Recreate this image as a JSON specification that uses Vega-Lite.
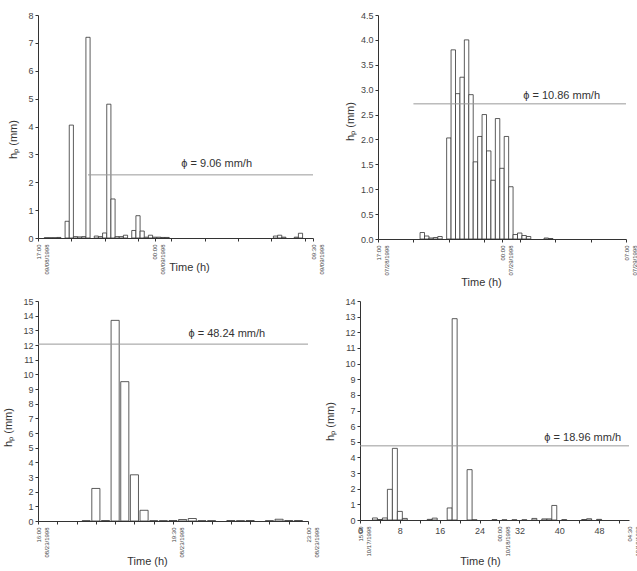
{
  "$schema": "https://vega.github.io/schema/vega-lite/v6.json",
  "padding": {"left": 2, "top": 11, "right": 2, "bottom": 2},
  "background": "white",
  "config": {
    "view": {"stroke": null},
    "font": "Liberation Sans",
    "axis": {
      "grid": false,
      "domainColor": "#333",
      "tickColor": "#333",
      "labelColor": "#444",
      "titleColor": "#333",
      "labelFontSize": 9,
      "titleFontSize": 11,
      "titleFontWeight": "normal",
      "tickSize": 3,
      "labelPadding": 2,
      "labelOverlap": false,
      "labelFlush": false,
      "labelBound": false
    },
    "text": {"font": "Liberation Sans"}
  },
  "datasets": {
    "p1": [
      {"hr": 0.5, "h": 0.01}, {"hr": 0.75, "h": 0.01}, {"hr": 1.0, "h": 0.01}, {"hr": 1.25, "h": 0.02},
      {"hr": 1.75, "h": 0.6}, {"hr": 2.0, "h": 4.05}, {"hr": 2.25, "h": 0.05}, {"hr": 2.5, "h": 0.04},
      {"hr": 2.75, "h": 0.05}, {"hr": 3.0, "h": 7.2}, {"hr": 3.5, "h": 0.07}, {"hr": 3.75, "h": 0.05},
      {"hr": 4.0, "h": 0.18}, {"hr": 4.25, "h": 4.8}, {"hr": 4.5, "h": 1.4}, {"hr": 4.75, "h": 0.05},
      {"hr": 5.0, "h": 0.05}, {"hr": 5.25, "h": 0.1}, {"hr": 5.75, "h": 0.27}, {"hr": 6.0, "h": 0.8},
      {"hr": 6.25, "h": 0.25}, {"hr": 6.5, "h": 0.03}, {"hr": 6.75, "h": 0.1}, {"hr": 7.0, "h": 0.03},
      {"hr": 7.25, "h": 0.03}, {"hr": 7.5, "h": 0.02}, {"hr": 7.75, "h": 0.02},
      {"hr": 14.25, "h": 0.07}, {"hr": 14.5, "h": 0.1}, {"hr": 14.75, "h": 0.03},
      {"hr": 15.5, "h": 0.03}, {"hr": 15.75, "h": 0.17}
    ],
    "p2": [
      {"hr": 2.5, "h": 0.13}, {"hr": 2.75, "h": 0.06}, {"hr": 3.0, "h": 0.02}, {"hr": 3.25, "h": 0.03},
      {"hr": 3.5, "h": 0.05}, {"hr": 4.0, "h": 2.03}, {"hr": 4.25, "h": 3.8}, {"hr": 4.5, "h": 2.92},
      {"hr": 4.75, "h": 3.25}, {"hr": 5.0, "h": 4.0}, {"hr": 5.25, "h": 2.9}, {"hr": 5.5, "h": 1.55},
      {"hr": 5.75, "h": 2.06}, {"hr": 6.0, "h": 2.5}, {"hr": 6.25, "h": 1.77}, {"hr": 6.5, "h": 1.18},
      {"hr": 6.75, "h": 2.42}, {"hr": 7.0, "h": 1.42}, {"hr": 7.25, "h": 2.06}, {"hr": 7.5, "h": 1.05},
      {"hr": 7.75, "h": 0.09}, {"hr": 8.0, "h": 0.12}, {"hr": 8.25, "h": 0.07}, {"hr": 8.5, "h": 0.05},
      {"hr": 9.5, "h": 0.02}, {"hr": 9.75, "h": 0.01}
    ],
    "p3": [
      {"hr": 1.25, "h": 0.02}, {"hr": 1.5, "h": 2.22}, {"hr": 1.75, "h": 0.03}, {"hr": 2.0, "h": 13.68},
      {"hr": 2.25, "h": 9.5}, {"hr": 2.5, "h": 3.15}, {"hr": 2.75, "h": 0.73}, {"hr": 3.0, "h": 0.02},
      {"hr": 3.25, "h": 0.02}, {"hr": 3.5, "h": 0.03}, {"hr": 3.75, "h": 0.1}, {"hr": 4.0, "h": 0.17},
      {"hr": 4.25, "h": 0.02}, {"hr": 4.5, "h": 0.02}, {"hr": 5.0, "h": 0.03}, {"hr": 5.25, "h": 0.02},
      {"hr": 5.5, "h": 0.03}, {"hr": 6.0, "h": 0.02}, {"hr": 6.25, "h": 0.12}, {"hr": 6.5, "h": 0.03},
      {"hr": 6.75, "h": 0.03}
    ],
    "p4": [
      {"step": 3, "h": 0.13}, {"step": 4, "h": 0.03}, {"step": 5, "h": 0.13}, {"step": 6, "h": 1.96},
      {"step": 7, "h": 4.58}, {"step": 8, "h": 0.55}, {"step": 9, "h": 0.1}, {"step": 14, "h": 0.04},
      {"step": 15, "h": 0.12}, {"step": 18, "h": 0.77}, {"step": 19, "h": 12.87}, {"step": 22, "h": 3.22},
      {"step": 23, "h": 0.01}, {"step": 27, "h": 0.02}, {"step": 29, "h": 0.01}, {"step": 31, "h": 0.01},
      {"step": 33, "h": 0.01}, {"step": 35, "h": 0.1}, {"step": 37, "h": 0.07}, {"step": 38, "h": 0.07},
      {"step": 39, "h": 0.93}, {"step": 41, "h": 0.02}, {"step": 45, "h": 0.03}, {"step": 46, "h": 0.08},
      {"step": 48, "h": 0.04}
    ]
  },
  "spacing": 10,
  "vconcat": [
    {
      "hconcat": [
        {
          "width": 275,
          "height": 223,
          "resolve": {"axis": {"x": "independent", "y": "independent"}},
          "layer": [
            {
              "data": {"name": "p1"},
              "transform": [
                {"calculate": "datum.hr - 0.125", "as": "t0"},
                {"calculate": "datum.hr + 0.125", "as": "t1"}
              ],
              "mark": {"type": "rect", "fill": "white", "stroke": "#333", "strokeWidth": 0.8},
              "encoding": {
                "x": {
                  "field": "t0", "type": "quantitative",
                  "scale": {"domain": [0, 16.5], "nice": false, "zero": false},
                  "axis": {
                    "values": [0, 2, 4, 6, 7, 8, 10, 12, 14, 16, 16.5],
                    "labelExpr": "datum.value == 0 ? ['17:00', '09/08/1998'] : datum.value == 7 ? ['00:00', '09/09/1998'] : datum.value == 16.5 ? ['09:30', '09/09/1998'] : ''",
                    "labelAngle": 270, "labelFontSize": 6, "labelLineHeight": 8, "labelOffset": 0, "labelPadding": 3, "labelOverlap": false,
                    "title": "Time (h)", "titleX": 151, "titleY": 29, "titleBaseline": "middle"
                  }
                },
                "x2": {"field": "t1"},
                "y": {
                  "field": "h", "type": "quantitative",
                  "scale": {"domain": [0, 8], "nice": false},
                  "axis": {"values": [0, 1, 2, 3, 4, 5, 6, 7, 8], "format": "d", "labelOverlap": false, "title": "hₚ (mm)", "titleX": -25, "titleY": 124, "titleBaseline": "middle"}
                },
                "y2": {"datum": 0}
              }
            },
            {
              "data": {"values": [{"phi": 9.06, "from": 3.0, "to": 16.5, "tx": 8.6}]},
              "transform": [
                {"calculate": "datum.phi / 4", "as": "h"},
                {"calculate": "'ϕ = ' + format(datum.phi, '.2f') + ' mm/h'", "as": "label"}
              ],
              "resolve": {"axis": {"x": "independent", "y": "independent"}},
              "layer": [
                {
                  "mark": {"type": "rule", "color": "#999", "strokeWidth": 1},
                  "encoding": {
                    "x": {"field": "from", "type": "quantitative", "axis": null},
                    "x2": {"field": "to"},
                    "y": {"field": "h", "type": "quantitative", "axis": null}
                  }
                },
                {
                  "mark": {"type": "text", "align": "left", "baseline": "alphabetic", "dy": -8, "fontSize": 11, "color": "#333"},
                  "encoding": {
                    "x": {"field": "tx", "type": "quantitative", "axis": null},
                    "y": {"field": "h", "type": "quantitative", "axis": null},
                    "text": {"field": "label"}
                  }
                }
              ]
            }
          ]
        },
        {
          "width": 248,
          "height": 224,
          "resolve": {"axis": {"x": "independent", "y": "independent"}},
          "layer": [
            {
              "data": {"name": "p2"},
              "transform": [
                {"calculate": "datum.hr - 0.125", "as": "t0"},
                {"calculate": "datum.hr + 0.125", "as": "t1"}
              ],
              "mark": {"type": "rect", "fill": "white", "stroke": "#333", "strokeWidth": 0.8},
              "encoding": {
                "x": {
                  "field": "t0", "type": "quantitative",
                  "scale": {"domain": [0, 14], "nice": false, "zero": false},
                  "axis": {
                    "values": [0, 2, 4, 6, 7, 8, 10, 12, 14],
                    "labelExpr": "datum.value == 0 ? ['17:00', '07/28/1998'] : datum.value == 7 ? ['00:00', '07/29/1998'] : datum.value == 14 ? ['07:00', '07/29/1998'] : ''",
                    "labelAngle": 270, "labelFontSize": 6, "labelLineHeight": 8, "labelOffset": 0, "labelPadding": 3, "labelOverlap": false,
                    "title": "Time (h)", "titleX": 103, "titleY": 43, "titleBaseline": "middle"
                  }
                },
                "x2": {"field": "t1"},
                "y": {
                  "field": "h", "type": "quantitative",
                  "scale": {"domain": [0, 4.5], "nice": false},
                  "axis": {"values": [0, 0.5, 1, 1.5, 2, 2.5, 3, 3.5, 4, 4.5], "format": ".1f", "labelOverlap": false, "title": "hₚ (mm)", "titleX": -28, "titleY": 106, "titleBaseline": "middle"}
                },
                "y2": {"datum": 0}
              }
            },
            {
              "data": {"values": [{"phi": 10.86, "from": 2.0, "to": 14, "tx": 8.2}]},
              "transform": [
                {"calculate": "datum.phi / 4", "as": "h"},
                {"calculate": "'ϕ = ' + format(datum.phi, '.2f') + ' mm/h'", "as": "label"}
              ],
              "resolve": {"axis": {"x": "independent", "y": "independent"}},
              "layer": [
                {
                  "mark": {"type": "rule", "color": "#999", "strokeWidth": 1},
                  "encoding": {
                    "x": {"field": "from", "type": "quantitative", "axis": null},
                    "x2": {"field": "to"},
                    "y": {"field": "h", "type": "quantitative", "axis": null}
                  }
                },
                {
                  "mark": {"type": "text", "align": "left", "baseline": "alphabetic", "dy": -5, "fontSize": 11, "color": "#333"},
                  "encoding": {
                    "x": {"field": "tx", "type": "quantitative", "axis": null},
                    "y": {"field": "h", "type": "quantitative", "axis": null},
                    "text": {"field": "label"}
                  }
                }
              ]
            }
          ]
        }
      ],
      "spacing": 65,
      "bounds": "flush"
    },
    {
      "hconcat": [
        {
          "width": 270,
          "height": 220,
          "resolve": {"axis": {"x": "independent", "y": "independent"}},
          "layer": [
            {
              "data": {"name": "p3"},
              "transform": [
                {"calculate": "datum.hr - 0.105", "as": "t0"},
                {"calculate": "datum.hr + 0.105", "as": "t1"}
              ],
              "mark": {"type": "rect", "fill": "white", "stroke": "#333", "strokeWidth": 0.8},
              "encoding": {
                "x": {
                  "field": "t0", "type": "quantitative",
                  "scale": {"domain": [0, 7], "nice": false, "zero": false},
                  "axis": {
                    "values": [0, 0.5, 1, 1.5, 2, 2.5, 3, 3.5, 4, 4.5, 5, 5.5, 6, 6.5, 7],
                    "labelExpr": "datum.value == 0 ? ['16:00', '08/23/1998'] : datum.value == 3.5 ? ['19:30', '08/23/1998'] : datum.value == 7 ? ['23:00', '08/23/1998'] : ''",
                    "labelAngle": 270, "labelFontSize": 6, "labelLineHeight": 8, "labelOffset": 0, "labelPadding": 3, "labelOverlap": false,
                    "title": "Time (h)", "titleX": 109, "titleY": 40, "titleBaseline": "middle"
                  }
                },
                "x2": {"field": "t1"},
                "y": {
                  "field": "h", "type": "quantitative",
                  "scale": {"domain": [0, 15], "nice": false},
                  "axis": {"values": [0, 1, 2, 3, 4, 5, 6, 7, 8, 9, 10, 11, 12, 13, 14, 15], "format": "d", "labelOverlap": false, "title": "hₚ (mm)", "titleX": -30, "titleY": 126, "titleBaseline": "middle"}
                },
                "y2": {"datum": 0}
              }
            },
            {
              "data": {"values": [{"phi": 48.24, "from": 0, "to": 7, "tx": 3.9}]},
              "transform": [
                {"calculate": "datum.phi / 4", "as": "h"},
                {"calculate": "'ϕ = ' + format(datum.phi, '.2f') + ' mm/h'", "as": "label"}
              ],
              "resolve": {"axis": {"x": "independent", "y": "independent"}},
              "layer": [
                {
                  "mark": {"type": "rule", "color": "#999", "strokeWidth": 1},
                  "encoding": {
                    "x": {"field": "from", "type": "quantitative", "axis": null},
                    "x2": {"field": "to"},
                    "y": {"field": "h", "type": "quantitative", "axis": null}
                  }
                },
                {
                  "mark": {"type": "text", "align": "left", "baseline": "alphabetic", "dy": -7, "fontSize": 11, "color": "#333"},
                  "encoding": {
                    "x": {"field": "tx", "type": "quantitative", "axis": null},
                    "y": {"field": "h", "type": "quantitative", "axis": null},
                    "text": {"field": "label"}
                  }
                }
              ]
            }
          ]
        },
        {
          "width": 269,
          "height": 219,
          "resolve": {"scale": {"x": "independent"}, "axis": {"x": "independent", "y": "independent"}},
          "layer": [
            {
              "data": {"name": "p4"},
              "transform": [
                {"calculate": "datum.step - 0.5", "as": "t0"},
                {"calculate": "datum.step + 0.5", "as": "t1"}
              ],
              "mark": {"type": "rect", "fill": "white", "stroke": "#333", "strokeWidth": 0.8},
              "encoding": {
                "x": {
                  "field": "t0", "type": "quantitative",
                  "scale": {"domain": [0, 54], "nice": false, "zero": false},
                  "axis": {
                    "values": [0, 4, 8, 12, 16, 20, 24, 28, 32, 36, 40, 44, 48, 52],
                    "labelExpr": "datum.value % 8 == 0 ? datum.label : ''",
                    "labelAngle": 0, "labelFontSize": 9, "labelPadding": 3, "labelOverlap": false,
                    "title": "Time (h)", "titleX": 120, "titleY": 41, "titleBaseline": "middle"
                  }
                },
                "x2": {"field": "t1"},
                "y": {
                  "field": "h", "type": "quantitative",
                  "scale": {"domain": [0, 14], "nice": false},
                  "axis": {"values": [0, 1, 2, 3, 4, 5, 6, 7, 8, 9, 10, 11, 12, 13, 14], "format": "d", "labelOverlap": false, "title": "hₚ (mm)", "titleX": -30, "titleY": 120, "titleBaseline": "middle"}
                },
                "y2": {"datum": 0}
              }
            },
            {
              "data": {"values": [{"phi": 18.96, "from": 0, "to": 54, "tx": 37}]},
              "transform": [
                {"calculate": "datum.phi / 4", "as": "h"},
                {"calculate": "'ϕ = ' + format(datum.phi, '.2f') + ' mm/h'", "as": "label"}
              ],
              "resolve": {"axis": {"x": "independent", "y": "independent"}},
              "layer": [
                {
                  "mark": {"type": "rule", "color": "#999", "strokeWidth": 1},
                  "encoding": {
                    "x": {
                      "field": "from", "type": "quantitative",
                      "scale": {"domain": [0, 54], "nice": false, "zero": false},
                      "axis": {
                        "orient": "bottom", "domain": false, "ticks": false,
                        "values": [0, 28, 54],
                        "labelExpr": "datum.value == 0 ? ['15:00', '10/17/1998'] : datum.value == 28 ? ['00:00', '10/18/1998'] : ['04:30', '10/18/1998']",
                        "labelAngle": 270, "labelFontSize": 6, "labelLineHeight": 8, "labelOffset": 0, "labelPadding": 6, "labelOverlap": false,
                        "title": null
                      }
                    },
                    "x2": {"field": "to"},
                    "y": {"field": "h", "type": "quantitative", "axis": null}
                  }
                },
                {
                  "mark": {"type": "text", "align": "left", "baseline": "alphabetic", "dy": -5, "fontSize": 11, "color": "#333"},
                  "encoding": {
                    "x": {"field": "tx", "type": "quantitative", "axis": null},
                    "y": {"field": "h", "type": "quantitative", "axis": null},
                    "text": {"field": "label"}
                  }
                }
              ]
            }
          ]
        }
      ],
      "spacing": 52,
      "bounds": "flush"
    }
  ]
}
